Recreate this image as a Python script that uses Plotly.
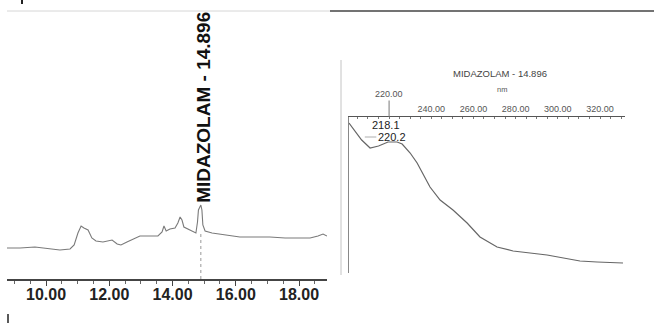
import plotly.graph_objects as go

# ---- Chromatogram data (retention time in min, detector signal arbitrary units) ----
rt_min = [8.767, 9.18, 9.65, 10.0, 10.28, 10.44, 10.76, 10.89, 11.01, 11.11, 11.2, 11.33,
          11.45, 11.58, 11.8, 11.96, 12.09, 12.25, 12.37, 12.56, 12.75, 12.97, 13.29, 13.54,
          13.67, 13.73, 13.8, 13.92, 14.08, 14.17, 14.24, 14.3, 14.36, 14.49, 14.65, 14.74,
          14.79, 14.82, 14.896, 14.93, 14.96, 15.03, 15.25, 15.5, 15.82, 16.13, 16.61, 17.08,
          17.56, 18.03, 18.35, 18.6, 18.76, 18.885]
signal = [31, 31, 32, 31, 30, 29, 30, 34, 46, 53, 51, 49,
          41, 38, 37, 38, 39, 35, 34, 37, 40, 43, 43, 43,
          47, 53, 48, 50, 51, 56, 62, 59, 52, 50, 48, 46,
          57, 69, 74, 69, 54, 48, 46, 45, 43, 42, 42, 42,
          41, 41, 41, 43, 45, 43]
peak_rt = 14.896
peak_name = "MIDAZOLAM - 14.896"
rt_ticks = [10, 12, 14, 16, 18]
rt_tick_labels = ["10.00", "12.00", "14.00", "16.00", "18.00"]

# ---- UV spectrum data (wavelength nm, absorbance) ----
wl_nm = [201.0, 204.0, 207.0, 211.0, 215.0, 219.5, 223.8, 226.2, 230.0, 233.3, 239.4,
         244.2, 250.3, 257.0, 263.1, 271.2, 278.8, 294.9, 310.5, 318.6, 330.9]
absorb = [0.150, 0.141, 0.133, 0.125, 0.127, 0.131, 0.131, 0.129, 0.120, 0.110, 0.086,
          0.073, 0.063, 0.050, 0.036, 0.026, 0.022, 0.018, 0.012, 0.011, 0.010]
wl_ticks = [240, 260, 280, 300, 320]
wl_tick_labels = ["240.00", "260.00", "280.00", "300.00", "320.00"]
wl_max_label = 220
spectrum_title = "MIDAZOLAM - 14.896"
max_labels = ["218.1", "220.2"]

W, H = 654, 325
def px(x):
    return x / W
def py(y):
    return 1 - y / H

fig = go.Figure()

fig.add_trace(go.Scatter(x=rt_min, y=signal, mode="lines",
                         line=dict(color="#7a7a7a", width=1.1),
                         xaxis="x", yaxis="y", hoverinfo="skip"))
fig.add_trace(go.Scatter(x=[peak_rt, peak_rt], y=[0, 47], mode="lines",
                         line=dict(color="#999999", width=1, dash="dot"),
                         xaxis="x", yaxis="y", hoverinfo="skip"))
fig.add_trace(go.Scatter(x=wl_nm, y=absorb, mode="lines",
                         line=dict(color="#666666", width=1.2),
                         xaxis="x2", yaxis="y2", hoverinfo="skip"))

fig.update_layout(
    width=W, height=H,
    margin=dict(l=0, r=0, t=0, b=0),
    paper_bgcolor="white", plot_bgcolor="white",
    showlegend=False,
    font=dict(family="Arial, Liberation Sans, sans-serif", color="#222"),
    xaxis=dict(domain=[px(7), px(327)], range=[8.767, 18.885],
               anchor="y", showgrid=False, zeroline=False,
               showline=True, linecolor="#444", linewidth=1.5,
               tickvals=rt_ticks, ticktext=rt_tick_labels,
               ticks="outside", ticklen=5, tickcolor="#444", tickwidth=1,
               ticklabelstandoff=-5,
               tickfont=dict(size=16, color="#222", weight="bold"),
               minor=dict(dtick=0.5, tick0=0, ticks="outside", ticklen=3,
                          tickcolor="#666", tickwidth=1)),
    yaxis=dict(domain=[py(279), py(10)], range=[0, 269], anchor="x",
               visible=False),
    xaxis2=dict(domain=[px(349), px(625)], range=[201.0, 331.85],
                anchor="y2", side="top", showgrid=False, zeroline=False,
                showline=True, linecolor="#555", linewidth=1.2,
                tickvals=wl_ticks, ticktext=wl_tick_labels, ticks="",
                tickfont=dict(size=9, color="#555"),
                minor=dict(dtick=5, tick0=0, ticks="inside", ticklen=2,
                           tickcolor="#777", tickwidth=1)),
    yaxis2=dict(domain=[py(273), py(117)], range=[0, 0.156], anchor="x2",
                showgrid=False, zeroline=False, showticklabels=False,
                showline=True, linecolor="#888", linewidth=1, ticks=""),
)

annotations = [
    dict(text=peak_name, x=peak_rt, xref="x", y=py(107), yref="paper",
         xanchor="center", yanchor="middle",
         textangle=-90, showarrow=False, xshift=2,
         font=dict(size=19, color="#111", weight="bold")),
    dict(text=spectrum_title, x=px(500), y=py(74), xref="paper", yref="paper",
         xanchor="center", yanchor="middle",
         showarrow=False, font=dict(size=9.5, color="#444")),
    dict(text="nm", x=px(502), y=py(89), xref="paper", yref="paper",
         xanchor="center", yanchor="middle",
         showarrow=False, font=dict(size=7.5, color="#555")),
    dict(text=f"{wl_max_label:.2f}", x=wl_max_label, xref="x2", y=py(117), yref="paper",
         showarrow=True, arrowhead=0, ax=0, ay=-23, arrowcolor="#777", arrowwidth=1,
         font=dict(size=9, color="#555")),
    dict(text=max_labels[0], x=218.6, xref="x2", y=0.148, yref="y2",
         xanchor="center", yanchor="middle",
         showarrow=False, font=dict(size=11, color="#222")),
    dict(text=max_labels[1], x=208.5, xref="x2", y=0.136, yref="y2",
         showarrow=True, arrowhead=0, ax=27, ay=0,
         arrowcolor="#999", arrowwidth=0.8, standoff=0,
         font=dict(size=11, color="#222")),
]
fig.update_layout(annotations=annotations)

shapes = [
    dict(type="line", xref="paper", yref="paper", x0=px(7), x1=px(330), y0=py(11), y1=py(11),
         line=dict(color="#d6d6d6", width=1)),
    dict(type="line", xref="paper", yref="paper", x0=px(330), x1=1, y0=py(11), y1=py(11),
         line=dict(color="#444", width=1.5)),
    dict(type="line", xref="paper", yref="paper", x0=px(341), x1=px(341), y0=py(60), y1=py(275),
         line=dict(color="#c4c4c4", width=1)),
    dict(type="line", xref="paper", yref="paper", x0=px(8), x1=px(8), y0=py(314), y1=py(323),
         line=dict(color="#222", width=1.5)),
    dict(type="line", xref="paper", yref="paper", x0=px(22), x1=px(22), y0=py(0), y1=py(4),
         line=dict(color="#222", width=2)),
]
fig.update_layout(shapes=shapes)

fig.write_html("out.html",
               config={"displayModeBar": False},
               post_script="document.body.style.margin='0';document.body.style.padding='0';")
